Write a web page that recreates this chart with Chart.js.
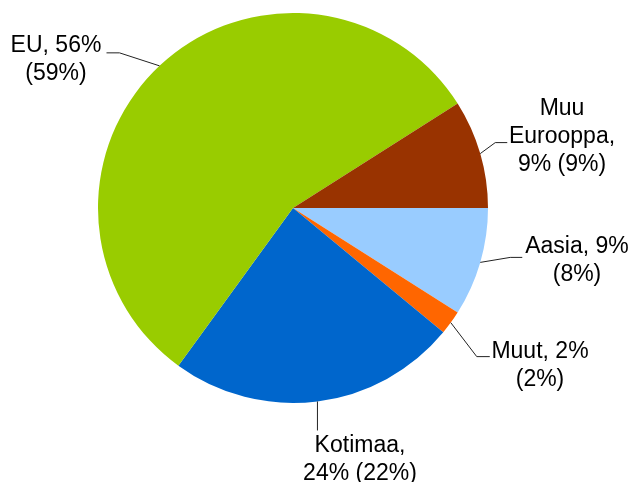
<!DOCTYPE html>
<html>
<head>
<meta charset="utf-8">
<script src="https://cdn.jsdelivr.net/npm/chart.js@4/dist/chart.umd.min.js"></script>
<style>
  html, body { margin: 0; padding: 0; background: #fff; }
  #wrap { width: 631px; height: 482px; }
</style>
</head>
<body>
<div id="wrap"><canvas id="pie"></canvas></div>
<script>
// slices clockwise from 3 o'clock
const categories = ['Aasia', 'Muut', 'Kotimaa', 'EU', 'Muu Eurooppa'];
const shares = [9, 2, 24, 56, 9];
const previousShares = [8, 2, 22, 59, 9];
const colors = ['#99ccff', '#ff6600', '#0066cc', '#99cc00', '#993300'];

// label text lines per slice
const labelLines = [
  ['Aasia, 9%', '(8%)'],
  ['Muut, 2%', '(2%)'],
  ['Kotimaa,', '24% (22%)'],
  ['EU, 56%', '(59%)'],
  ['Muu', 'Eurooppa,', '9% (9%)']
];

// leader layout: elbow offset from arc edge, horizontal run, text centre + first baseline (relative to pie centre)
const leaderLayout = [
  { elbow: [30, -5], run: 12, text: [284, 45] },
  { elbow: [26, 34], run: 13, text: [247, 150] },
  { elbow: [0, 29], run: 0, text: [67, 244] },
  { elbow: [-40, -13], run: -13, text: [-237, -156] },
  { elbow: [15, -11], run: 12, text: [269, -93] }
];

const pieLabels = {
  id: 'pieLabels',
  afterDatasetsDraw(chart) {
    const { ctx } = chart;
    const arcs = chart.getDatasetMeta(0).data;
    ctx.save();
    ctx.font = '23px "Liberation Sans", Arial, sans-serif';
    ctx.textAlign = 'center';
    ctx.textBaseline = 'alphabetic';
    arcs.forEach((arc, i) => {
      const { x, y, outerRadius, startAngle, endAngle } = arc.getProps(['x', 'y', 'outerRadius', 'startAngle', 'endAngle'], true);
      const mid = (startAngle + endAngle) / 2;
      const ex = x + Math.cos(mid) * outerRadius;
      const ey = y + Math.sin(mid) * outerRadius;
      const L = leaderLayout[i];
      const bx = ex + L.elbow[0], by = ey + L.elbow[1];
      ctx.strokeStyle = '#222';
      ctx.lineWidth = 1;
      ctx.beginPath();
      ctx.moveTo(ex, ey);
      ctx.lineTo(bx, by);
      ctx.lineTo(bx + L.run, by);
      ctx.stroke();
      ctx.fillStyle = '#000';
      labelLines[i].forEach((t, k) => {
        ctx.fillText(t, x + L.text[0], y + L.text[1] + k * 28);
      });
    });
    ctx.restore();
  }
};

new Chart(document.getElementById('pie'), {
  type: 'pie',
  data: {
    labels: categories,
    datasets: [{
      data: shares,
      backgroundColor: colors,
      borderWidth: 0
    }]
  },
  options: {
    responsive: true,
    maintainAspectRatio: false,
    animation: false,
    rotation: 90,
    layout: { padding: { left: 98, right: 143, top: 13, bottom: 79 } },
    plugins: {
      legend: { display: false },
      tooltip: { enabled: false }
    }
  },
  plugins: [pieLabels]
});
</script>
</body>
</html>
